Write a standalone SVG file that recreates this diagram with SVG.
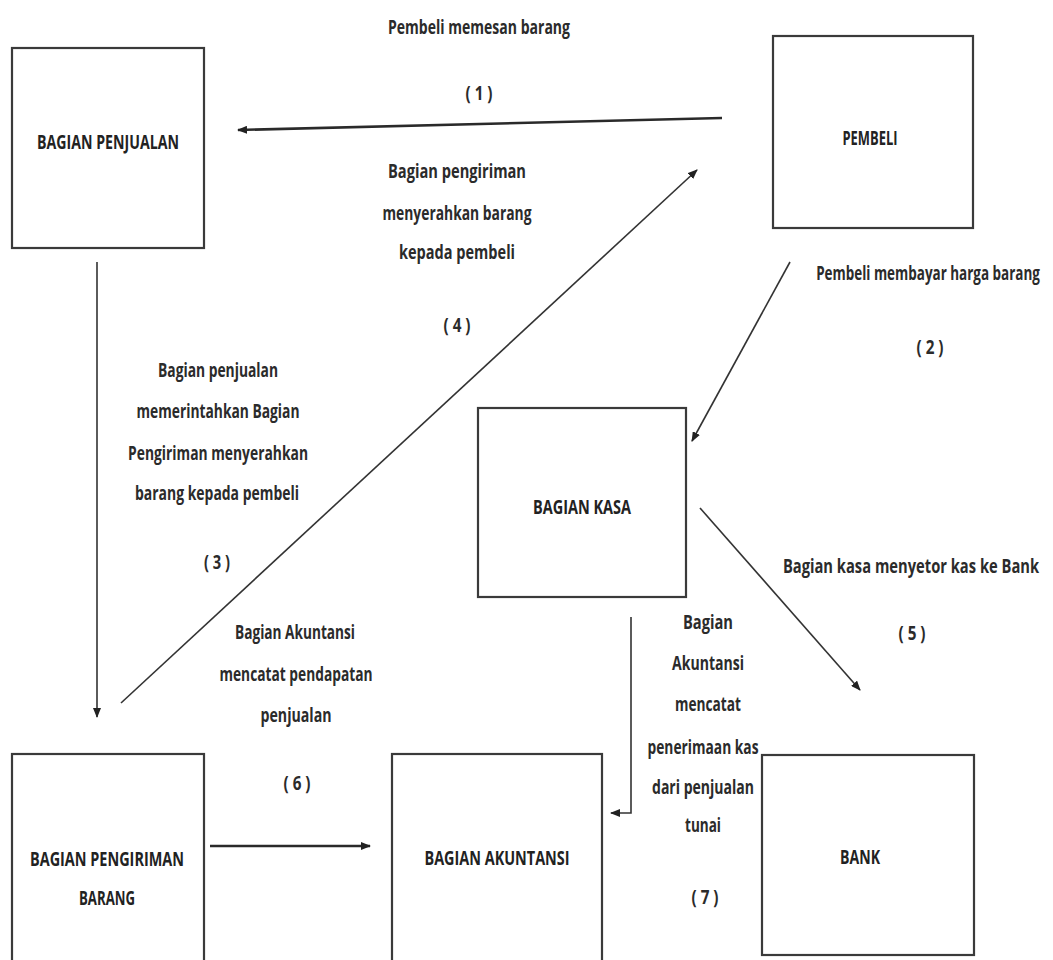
<svg xmlns="http://www.w3.org/2000/svg" width="1053" height="960" viewBox="0 0 1053 960">
<style>
.box{fill:#fff;stroke:#3a3a3a;stroke-width:2.2}
.t{font-family:"Open Sans","Liberation Sans",sans-serif;font-weight:700;font-size:20px;fill:#2b2b2b;text-anchor:middle}
.n{font-family:"Open Sans","Liberation Sans",sans-serif;font-weight:700;font-size:20px;fill:#222;text-anchor:middle}
.c{fill:none;stroke:#333;stroke-width:1.6}
.c2{fill:none;stroke:#2a2a2a;stroke-width:2.6}
</style>
<defs>
<marker id="ah" viewBox="0 0 10 8" refX="9" refY="4" markerWidth="10" markerHeight="8" markerUnits="userSpaceOnUse" orient="auto">
<path d="M0,0 L10,4 L0,8 Z" fill="#222"/>
</marker>
</defs>
<rect width="1053" height="960" fill="#fff"/>
<g id="connectors">
<line class="c2" x1="722" y1="118" x2="238" y2="130" marker-end="url(#ah)"/>
<line class="c" x1="97" y1="262" x2="97" y2="717" marker-end="url(#ah)"/>
<line class="c" x1="121" y1="703" x2="697" y2="170" marker-end="url(#ah)"/>
<line class="c" x1="790" y1="262" x2="692" y2="441" marker-end="url(#ah)"/>
<line class="c" x1="700" y1="508" x2="860" y2="690" marker-end="url(#ah)"/>
<line class="c2" x1="210" y1="846" x2="370" y2="846" marker-end="url(#ah)"/>
<polyline class="c" points="631,617 631,813 611,813" marker-end="url(#ah)"/>
</g>
<g id="penjualan"><rect class="box" x="12" y="48" width="192" height="200"/><text class="n" x="108" y="149" textLength="142" lengthAdjust="spacingAndGlyphs">BAGIAN PENJUALAN</text></g>
<g id="pembeli"><rect class="box" x="773" y="36" width="200" height="192"/><text class="n" x="870" y="145" textLength="55" lengthAdjust="spacingAndGlyphs">PEMBELI</text></g>
<g id="kasa"><rect class="box" x="478" y="408" width="208" height="189"/><text class="n" x="582" y="514" textLength="98" lengthAdjust="spacingAndGlyphs">BAGIAN KASA</text></g>
<g id="pengiriman"><rect class="box" x="12" y="754" width="192" height="220"/><text class="n" x="107" y="866" textLength="154" lengthAdjust="spacingAndGlyphs">BAGIAN PENGIRIMAN</text><text class="n" x="107" y="905" textLength="56" lengthAdjust="spacingAndGlyphs">BARANG</text></g>
<g id="akuntansi"><rect class="box" x="392" y="754" width="210" height="220"/><text class="n" x="497" y="865" textLength="145" lengthAdjust="spacingAndGlyphs">BAGIAN AKUNTANSI</text></g>
<g id="bank"><rect class="box" x="762" y="755" width="212" height="200"/><text class="n" x="860" y="864" textLength="40" lengthAdjust="spacingAndGlyphs">BANK</text></g>
<g id="labels">
<text class="t" x="479" y="34" textLength="182" lengthAdjust="spacingAndGlyphs">Pembeli memesan barang</text>
<text class="t" x="479" y="100" textLength="27" lengthAdjust="spacingAndGlyphs">( 1 )</text>
<text class="t" x="457" y="178" textLength="138" lengthAdjust="spacingAndGlyphs">Bagian pengiriman</text>
<text class="t" x="457" y="220" textLength="149" lengthAdjust="spacingAndGlyphs">menyerahkan barang</text>
<text class="t" x="457" y="259" textLength="116" lengthAdjust="spacingAndGlyphs">kepada pembeli</text>
<text class="t" x="457" y="332" textLength="27" lengthAdjust="spacingAndGlyphs">( 4 )</text>
<text class="t" transform="translate(928,280) scale(0.68,1)" x="0" y="0" textLength="329" lengthAdjust="spacingAndGlyphs">Pembeli membayar harga barang</text>
<text class="t" x="930" y="354" textLength="27" lengthAdjust="spacingAndGlyphs">( 2 )</text>
<text class="t" x="218" y="377" textLength="120" lengthAdjust="spacingAndGlyphs">Bagian penjualan</text>
<text class="t" x="218" y="418" textLength="163" lengthAdjust="spacingAndGlyphs">memerintahkan Bagian</text>
<text class="t" x="218" y="460" textLength="180" lengthAdjust="spacingAndGlyphs">Pengiriman menyerahkan</text>
<text class="t" x="217" y="500" textLength="164" lengthAdjust="spacingAndGlyphs">barang kepada pembeli</text>
<text class="t" x="217" y="569" textLength="26" lengthAdjust="spacingAndGlyphs">( 3 )</text>
<text class="t" x="295" y="639" textLength="120" lengthAdjust="spacingAndGlyphs">Bagian Akuntansi</text>
<text class="t" x="296" y="681" textLength="153" lengthAdjust="spacingAndGlyphs">mencatat pendapatan</text>
<text class="t" x="296" y="722" textLength="71" lengthAdjust="spacingAndGlyphs">penjualan</text>
<text class="t" x="297" y="790" textLength="27" lengthAdjust="spacingAndGlyphs">( 6 )</text>
<text class="t" transform="translate(911,573) scale(0.7,1)" x="0" y="0" textLength="366" lengthAdjust="spacingAndGlyphs">Bagian kasa menyetor kas ke Bank</text>
<text class="t" x="912" y="640" textLength="27" lengthAdjust="spacingAndGlyphs">( 5 )</text>
<text class="t" x="708" y="629" textLength="50" lengthAdjust="spacingAndGlyphs">Bagian</text>
<text class="t" x="708" y="670" textLength="72" lengthAdjust="spacingAndGlyphs">Akuntansi</text>
<text class="t" x="708" y="711" textLength="66" lengthAdjust="spacingAndGlyphs">mencatat</text>
<text class="t" x="703" y="754" textLength="111" lengthAdjust="spacingAndGlyphs">penerimaan kas</text>
<text class="t" x="703" y="794" textLength="102" lengthAdjust="spacingAndGlyphs">dari penjualan</text>
<text class="t" x="703" y="832" textLength="36" lengthAdjust="spacingAndGlyphs">tunai</text>
<text class="t" x="705" y="904" textLength="27" lengthAdjust="spacingAndGlyphs">( 7 )</text>
</g>
</svg>
